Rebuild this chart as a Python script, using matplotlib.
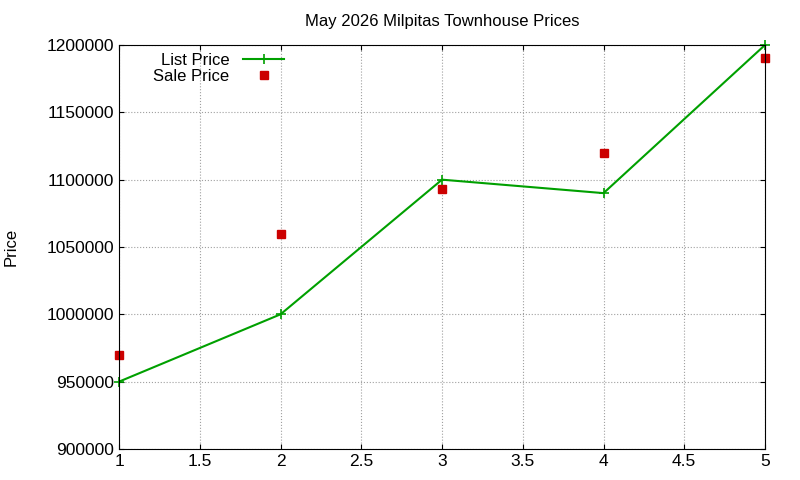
import matplotlib
matplotlib.use("Agg")
import matplotlib.pyplot as plt

x = [1, 2, 3, 4, 5]
list_price = [950000, 1000000, 1100000, 1090000, 1200000]
sale_price = [970000, 1060000, 1093000, 1120000, 1190000]

plt.rcParams['font.family'] = ['Liberation Sans', 'DejaVu Sans']
fig = plt.figure(figsize=(8, 4.8), dpi=100)
ax = fig.add_axes([119/800, 1-449/480, (765-119)/800, (449-45)/480])
ax.plot(x, list_price, color='#00a000', lw=1.5, marker='+', ms=7, mew=1.2, label='List Price', clip_on=False)
ax.plot(x, sale_price, ls='none', marker='s', ms=5.5, color='#cc0000', label='Sale Price', clip_on=False)
ax.set_xlim(1, 5)
ax.set_ylim(900000, 1200000)
ax.set_xticks([1, 1.5, 2, 2.5, 3, 3.5, 4, 4.5, 5])
ax.set_xticklabels(['1', '1.5', '2', '2.5', '3', '3.5', '4', '4.5', '5'])
ax.set_yticks(range(900000, 1200001, 50000))
ax.get_yaxis().set_major_formatter(matplotlib.ticker.FuncFormatter(lambda v, p: f"{int(v)}"))
ax.grid(True, color='#a0a0a0', ls=':', lw=0.8)
ax.tick_params(direction='in', labelsize=12.5, top=True, right=True)
ax.set_ylabel('Price', fontsize=12, labelpad=20)
ax.set_title('May 2026 Milpitas Townhouse Prices', fontsize=12, pad=14)
leg = ax.legend(loc='upper left', bbox_to_anchor=(0.035, 1.01), frameon=False, fontsize=12,
                markerfirst=False, handlelength=2.5, borderpad=0.2, labelspacing=0.1)
for t in leg.get_texts():
    t.set_ha('right')
leg._legend_box.align = 'right'
fig.savefig('out.png', dpi=100)
